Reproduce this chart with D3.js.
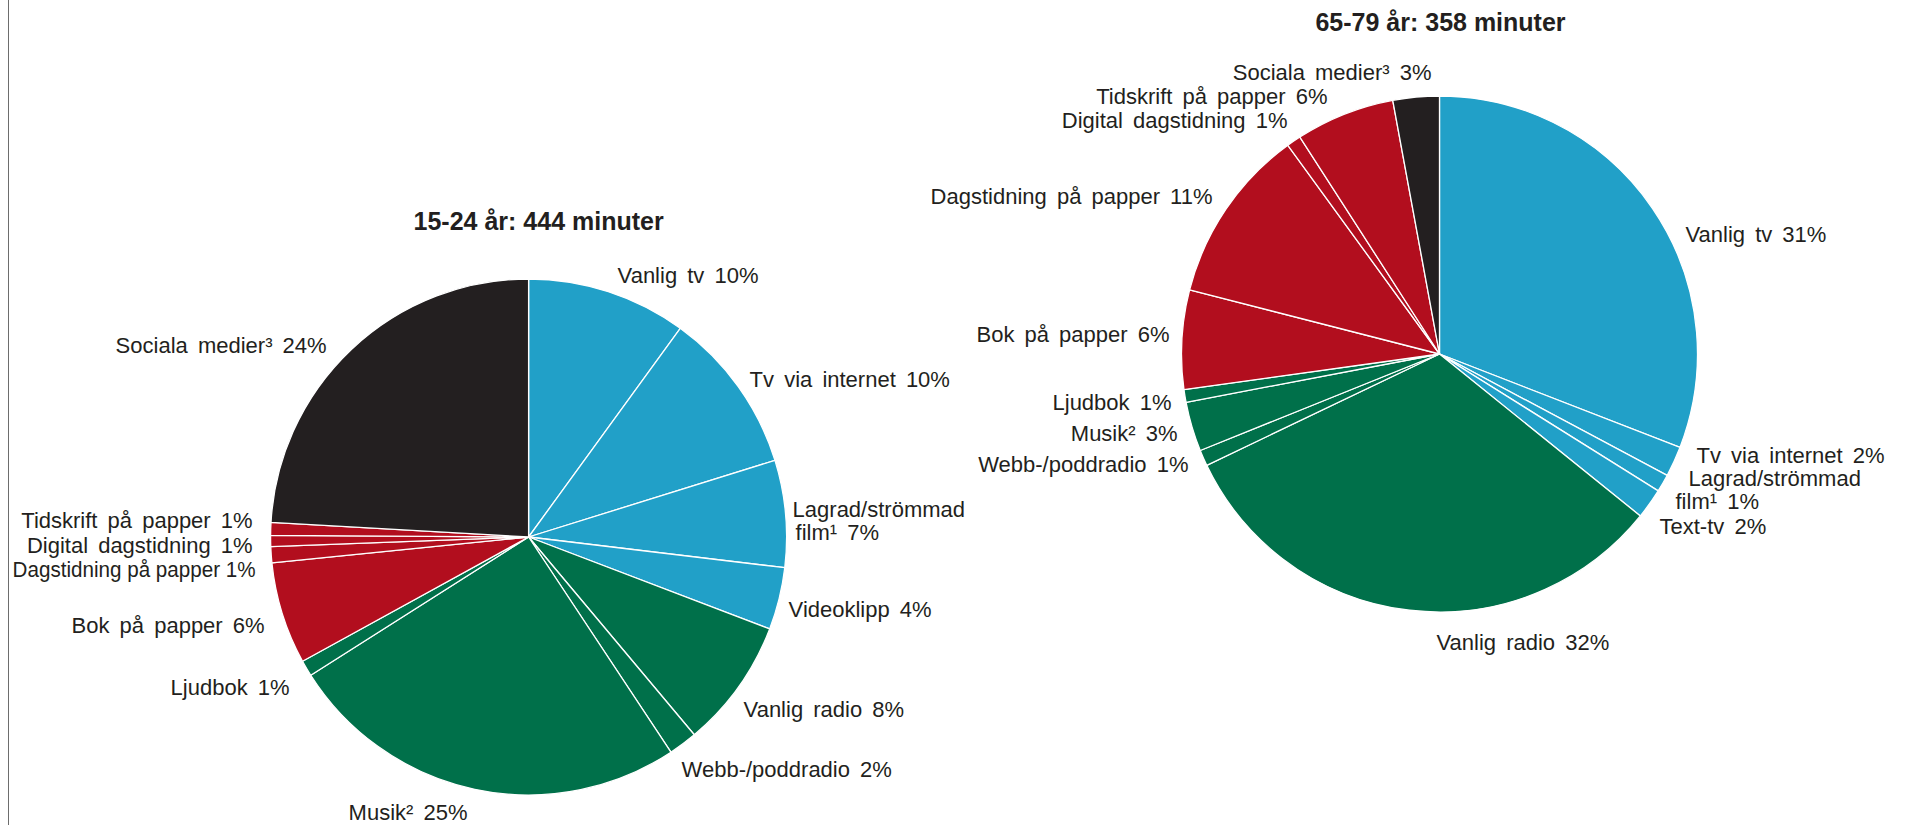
<!DOCTYPE html>
<meta charset="utf-8">
<title>Mediatid per dag, 15-24 och 65-79 år</title>
<script src="https://d3js.org/d3.v7.min.js"></script>
<style>
	body {
		margin: 0;
		background: #fff;
		font-family: "Liberation Sans", Arial, Helvetica, sans-serif;
	}
	.label {
		font-size: 22px;
		fill: #231f20;
		word-spacing: 4px;
	}
	.title {
		font-size: 25px;
		font-weight: bold;
		fill: #231f20;
	}
</style>
<body>
<div id="chart"></div>
<script>

// 15-24 år, andel av 444 minuter (medurs från kl 12)
var youngCats = ["Vanlig tv", "Tv via internet", "Lagrad/strömmad film¹", "Videoklipp", "Vanlig radio",
	"Webb-/poddradio", "Musik²", "Ljudbok", "Bok på papper", "Dagstidning på papper",
	"Digital dagstidning", "Tidskrift på papper", "Sociala medier³"];
var youngVals = [10.0, 10.2, 6.7, 3.9, 8.1, 1.8, 25.3, 1.0, 6.4, 1.0, 0.7, 0.8, 24.1];
var youngGroup = ["tv", "tv", "tv", "tv", "ljud", "ljud", "ljud", "ljud", "text", "text", "text", "text", "sociala"];

// 65-79 år, andel av 358 minuter
var oldCats = ["Vanlig tv", "Tv via internet", "Lagrad/strömmad film¹", "Text-tv", "Vanlig radio",
	"Webb-/poddradio", "Musik²", "Ljudbok", "Bok på papper", "Dagstidning på papper",
	"Digital dagstidning", "Tidskrift på papper", "Sociala medier³"];
var oldVals = [30.9, 1.9, 1.1, 1.9, 32.1, 1.0, 3.1, 0.8, 6.2, 11.0, 0.9, 6.2, 2.9];
var oldGroup = ["tv", "tv", "tv", "tv", "ljud", "ljud", "ljud", "ljud", "text", "text", "text", "text", "sociala"];

var titles = ["15-24 år: 444 minuter", "65-79 år: 358 minuter"];

var colors = {"tv": "#21a0c8", "ljud": "#00704a", "text": "#b20e1e", "sociala": "#231f20"};

// etikettplacering relativt cirkelns mitt: [dx, dy, anchor]
var youngLabelPos = [
	[89, -254, "start"], [221, -150, "start"], [264, -20, "start"], [260, 80, "start"],
	[215, 180, "start"], [153, 240, "start"], [-180, 283, "start"], [-239, 158, "end"],
	[-264, 96, "end"], [-273, 40, "end"], [-276, 16, "end"], [-276, -9, "end"], [-202, -184, "end"]
];
var oldLabelPos = [
	[246, -112, "start"], [257, 109, "start"], [249, 132, "start"], [220, 180, "start"],
	[-3, 296, "start"], [-251, 118, "end"], [-262, 87, "end"], [-268, 56, "end"],
	[-270, -12, "end"], [-227, -150, "end"], [-152, -226, "end"], [-112, -250, "end"], [-8, -274, "end"]
];

var width = 1912, height = 825, radius = 258;

var svg = d3.select("#chart").append("svg")
	.attr("width", width)
	.attr("height", height);

// tunn vertikal linje i vänsterkanten
svg.append("line")
	.attr("x1", 8.5).attr("x2", 8.5)
	.attr("y1", 0).attr("y2", height)
	.attr("stroke", "#6d6d6d")
	.attr("stroke-width", 1);

var pie = d3.pie().sort(null).value(function(d) { return d.value; });
var arc = d3.arc().innerRadius(0).outerRadius(radius);

function drawPie(cx, cy, title, titleDx, titleDy, cats, vals, groups, labelPos, wrapDx) {

	var data = cats.map(function(c, i) { return {name: c, value: vals[i], group: groups[i]}; });

	var g = svg.append("g").attr("transform", "translate(" + cx + "," + cy + ")");

	g.append("text")
		.attr("class", "title")
		.attr("text-anchor", "middle")
		.attr("x", titleDx)
		.attr("y", titleDy)
		.text(title);

	g.selectAll("path")
		.data(pie(data))
		.enter().append("path")
		.attr("d", arc)
		.attr("fill", function(d) { return colors[d.data.group]; })
		.attr("stroke", "#fff")
		.attr("stroke-width", 1.3)
		.attr("stroke-linejoin", "round");

	var labels = g.selectAll(".label")
		.data(pie(data))
		.enter().append("text")
		.attr("class", "label")
		.attr("x", function(d, i) { return labelPos[i][0]; })
		.attr("y", function(d, i) { return labelPos[i][1]; })
		.attr("text-anchor", function(d, i) { return labelPos[i][2]; });

	labels.each(function(d, i) {
		var t = d3.select(this);
		var pct = Math.round(d.data.value) + "%";
		if (d.data.name.indexOf("Lagrad") === 0) {
			var parts = d.data.name.split(" ");
			t.append("tspan").text(parts[0]);
			t.append("tspan")
				.attr("x", labelPos[i][0] + wrapDx)
				.attr("dy", 23)
				.text(parts[1] + " " + pct);
		} else {
			t.text(d.data.name + " " + pct);
		}
	});

	return labels;
}

var young = drawPie(528.6, 537, titles[0], 10, -307, youngCats, youngVals, youngGroup, youngLabelPos, 3);
drawPie(1439.5, 354, titles[1], 1, -323, oldCats, oldVals, oldGroup, oldLabelPos, -13);

// den långa etiketten till vänster är hoptryckt i förlagan
young.filter(function(d) { return d.data.name === "Dagstidning på papper"; })
	.style("word-spacing", "0px")
	.attr("textLength", 243)
	.attr("lengthAdjust", "spacingAndGlyphs");

</script>
